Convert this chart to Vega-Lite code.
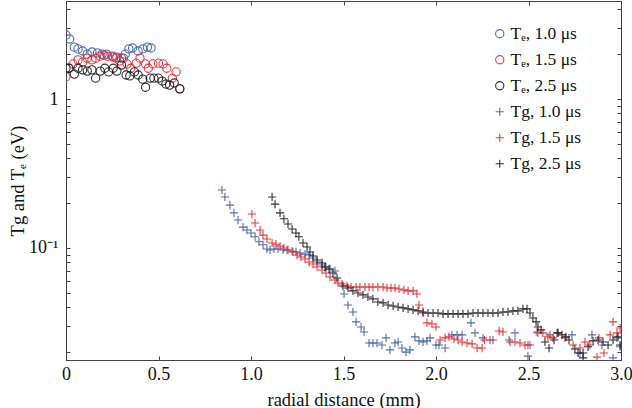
{
  "$schema": "https://vega.github.io/schema/vega-lite/v6.json",
  "width": 555,
  "height": 359,
  "autosize": {"type": "none"},
  "padding": {"left": 66, "top": 1, "right": 11, "bottom": 48},
  "background": "white",
  "config": {
    "view": {"stroke": "#222", "strokeWidth": 1},
    "font": "Liberation Serif",
    "axis": {
      "labelFont": "Liberation Serif", "titleFont": "Liberation Serif",
      "labelFontSize": 18, "titleFontSize": 18.5, "titleFontWeight": "normal",
      "labelColor": "#111", "titleColor": "#111",
      "domainColor": "#444", "tickColor": "#444", "grid": false
    },
    "legend": {"labelFont": "Liberation Serif", "labelFontSize": 17.5, "labelColor": "#111"}
  },
  "data": {"values": [
    {"x":0.00,"y":2.69,"s":"Te1"},{"x":0.02,"y":2.53,"s":"Te1"},{"x":0.045,"y":2.23,"s":"Te1"},{"x":0.065,"y":2.17,"s":"Te1"},{"x":0.09,"y":2.10,"s":"Te1"},{"x":0.115,"y":2.00,"s":"Te1"},{"x":0.14,"y":2.07,"s":"Te1"},{"x":0.17,"y":2.04,"s":"Te1"},{"x":0.195,"y":2.00,"s":"Te1"},{"x":0.22,"y":2.00,"s":"Te1"},{"x":0.25,"y":1.94,"s":"Te1"},{"x":0.275,"y":1.91,"s":"Te1"},{"x":0.30,"y":1.88,"s":"Te1"},{"x":0.32,"y":2.00,"s":"Te1"},{"x":0.34,"y":2.17,"s":"Te1"},{"x":0.36,"y":2.20,"s":"Te1"},{"x":0.39,"y":2.10,"s":"Te1"},{"x":0.415,"y":2.17,"s":"Te1"},{"x":0.44,"y":2.23,"s":"Te1"},{"x":0.46,"y":2.20,"s":"Te1"},
    {"x":0.00,"y":1.41,"s":"Te15"},{"x":0.016,"y":1.61,"s":"Te15"},{"x":0.038,"y":1.72,"s":"Te15"},{"x":0.065,"y":1.83,"s":"Te15"},{"x":0.09,"y":1.77,"s":"Te15"},{"x":0.115,"y":1.88,"s":"Te15"},{"x":0.14,"y":1.83,"s":"Te15"},{"x":0.16,"y":1.88,"s":"Te15"},{"x":0.185,"y":1.94,"s":"Te15"},{"x":0.205,"y":1.97,"s":"Te15"},{"x":0.225,"y":1.94,"s":"Te15"},{"x":0.255,"y":1.91,"s":"Te15"},{"x":0.27,"y":1.88,"s":"Te15"},{"x":0.29,"y":1.80,"s":"Te15"},{"x":0.31,"y":1.88,"s":"Te15"},{"x":0.33,"y":1.72,"s":"Te15"},{"x":0.35,"y":1.61,"s":"Te15"},{"x":0.38,"y":1.74,"s":"Te15"},{"x":0.40,"y":1.88,"s":"Te15"},{"x":0.43,"y":1.72,"s":"Te15"},{"x":0.445,"y":1.61,"s":"Te15"},{"x":0.47,"y":1.72,"s":"Te15"},{"x":0.50,"y":1.74,"s":"Te15"},{"x":0.525,"y":1.72,"s":"Te15"},{"x":0.545,"y":1.61,"s":"Te15"},{"x":0.575,"y":1.38,"s":"Te15"},{"x":0.595,"y":1.52,"s":"Te15"},{"x":0.615,"y":1.17,"s":"Te15"},
    {"x":0.00,"y":1.61,"s":"Te25"},{"x":0.016,"y":1.61,"s":"Te25"},{"x":0.045,"y":1.47,"s":"Te25"},{"x":0.065,"y":1.61,"s":"Te25"},{"x":0.09,"y":1.57,"s":"Te25"},{"x":0.115,"y":1.54,"s":"Te25"},{"x":0.14,"y":1.57,"s":"Te25"},{"x":0.16,"y":1.38,"s":"Te25"},{"x":0.185,"y":1.54,"s":"Te25"},{"x":0.21,"y":1.61,"s":"Te25"},{"x":0.23,"y":1.52,"s":"Te25"},{"x":0.255,"y":1.61,"s":"Te25"},{"x":0.275,"y":1.54,"s":"Te25"},{"x":0.30,"y":1.69,"s":"Te25"},{"x":0.325,"y":1.45,"s":"Te25"},{"x":0.345,"y":1.43,"s":"Te25"},{"x":0.37,"y":1.52,"s":"Te25"},{"x":0.39,"y":1.45,"s":"Te25"},{"x":0.415,"y":1.36,"s":"Te25"},{"x":0.43,"y":1.20,"s":"Te25"},{"x":0.455,"y":1.38,"s":"Te25"},{"x":0.475,"y":1.38,"s":"Te25"},{"x":0.50,"y":1.38,"s":"Te25"},{"x":0.52,"y":1.32,"s":"Te25"},{"x":0.54,"y":1.26,"s":"Te25"},{"x":0.56,"y":1.24,"s":"Te25"},{"x":0.585,"y":1.28,"s":"Te25"},{"x":0.615,"y":1.17,"s":"Te25"},
    {"x":0.843,"y":0.245,"s":"Tg1"},{"x":0.859,"y":0.220,"s":"Tg1"},{"x":0.886,"y":0.194,"s":"Tg1"},{"x":0.908,"y":0.172,"s":"Tg1"},{"x":0.930,"y":0.154,"s":"Tg1"},{"x":0.957,"y":0.138,"s":"Tg1"},{"x":0.978,"y":0.132,"s":"Tg1"},{"x":1.0,"y":0.126,"s":"Tg1"},{"x":1.022,"y":0.119,"s":"Tg1"},{"x":1.043,"y":0.110,"s":"Tg1"},{"x":1.065,"y":0.105,"s":"Tg1"},{"x":1.086,"y":0.0985,"s":"Tg1"},{"x":1.103,"y":0.097,"s":"Tg1"},{"x":1.124,"y":0.0985,"s":"Tg1"},{"x":1.146,"y":0.0985,"s":"Tg1"},{"x":1.173,"y":0.097,"s":"Tg1"},{"x":1.195,"y":0.097,"s":"Tg1"},{"x":1.222,"y":0.095,"s":"Tg1"},{"x":1.243,"y":0.094,"s":"Tg1"},{"x":1.265,"y":0.0925,"s":"Tg1"},{"x":1.292,"y":0.091,"s":"Tg1"},{"x":1.314,"y":0.0897,"s":"Tg1"},{"x":1.335,"y":0.0857,"s":"Tg1"},{"x":1.357,"y":0.0805,"s":"Tg1"},{"x":1.384,"y":0.0769,"s":"Tg1"},{"x":1.405,"y":0.0745,"s":"Tg1"},{"x":1.427,"y":0.0723,"s":"Tg1"},{"x":1.454,"y":0.0701,"s":"Tg1"},{"x":1.503,"y":0.0491,"s":"Tg1"},{"x":1.524,"y":0.0414,"s":"Tg1"},{"x":1.551,"y":0.0372,"s":"Tg1"},{"x":1.568,"y":0.0319,"s":"Tg1"},{"x":1.595,"y":0.0295,"s":"Tg1"},{"x":1.611,"y":0.0273,"s":"Tg1"},{"x":1.638,"y":0.0230,"s":"Tg1"},{"x":1.659,"y":0.0230,"s":"Tg1"},{"x":1.681,"y":0.0230,"s":"Tg1"},{"x":1.708,"y":0.0223,"s":"Tg1"},{"x":1.730,"y":0.0249,"s":"Tg1"},{"x":1.751,"y":0.0207,"s":"Tg1"},{"x":1.778,"y":0.0230,"s":"Tg1"},{"x":1.795,"y":0.0234,"s":"Tg1"},{"x":1.816,"y":0.0213,"s":"Tg1"},{"x":1.838,"y":0.0200,"s":"Tg1"},{"x":1.859,"y":0.0207,"s":"Tg1"},{"x":1.886,"y":0.0253,"s":"Tg1"},{"x":1.908,"y":0.0238,"s":"Tg1"},{"x":1.930,"y":0.0234,"s":"Tg1"},{"x":1.951,"y":0.0238,"s":"Tg1"},{"x":1.968,"y":0.0249,"s":"Tg1"},{"x":2.0,"y":0.0223,"s":"Tg1"},{"x":2.016,"y":0.0223,"s":"Tg1"},{"x":2.049,"y":0.0213,"s":"Tg1"},{"x":2.086,"y":0.0261,"s":"Tg1"},{"x":2.114,"y":0.0261,"s":"Tg1"},{"x":2.141,"y":0.0261,"s":"Tg1"},{"x":2.189,"y":0.0314,"s":"Tg1"},{"x":2.211,"y":0.0269,"s":"Tg1"},{"x":2.254,"y":0.0249,"s":"Tg1"},{"x":2.308,"y":0.0241,"s":"Tg1"},{"x":2.395,"y":0.0241,"s":"Tg1"},{"x":2.427,"y":0.0269,"s":"Tg1"},{"x":2.497,"y":0.0188,"s":"Tg1"},{"x":2.497,"y":0.0223,"s":"Tg1"},{"x":2.551,"y":0.0269,"s":"Tg1"},{"x":2.616,"y":0.0261,"s":"Tg1"},{"x":2.654,"y":0.0269,"s":"Tg1"},{"x":2.735,"y":0.0261,"s":"Tg1"},{"x":2.778,"y":0.0197,"s":"Tg1"},{"x":2.843,"y":0.0261,"s":"Tg1"},{"x":2.897,"y":0.0223,"s":"Tg1"},{"x":2.957,"y":0.0183,"s":"Tg1"},{"x":2.978,"y":0.0249,"s":"Tg1"},{"x":2.995,"y":0.0217,"s":"Tg1"},
    {"x":1.005,"y":0.169,"s":"Tg15"},{"x":1.022,"y":0.147,"s":"Tg15"},{"x":1.049,"y":0.132,"s":"Tg15"},{"x":1.065,"y":0.122,"s":"Tg15"},{"x":1.086,"y":0.115,"s":"Tg15"},{"x":1.114,"y":0.108,"s":"Tg15"},{"x":1.135,"y":0.106,"s":"Tg15"},{"x":1.157,"y":0.103,"s":"Tg15"},{"x":1.178,"y":0.100,"s":"Tg15"},{"x":1.2,"y":0.097,"s":"Tg15"},{"x":1.227,"y":0.094,"s":"Tg15"},{"x":1.249,"y":0.0897,"s":"Tg15"},{"x":1.270,"y":0.087,"s":"Tg15"},{"x":1.292,"y":0.0844,"s":"Tg15"},{"x":1.314,"y":0.0805,"s":"Tg15"},{"x":1.335,"y":0.078,"s":"Tg15"},{"x":1.357,"y":0.0745,"s":"Tg15"},{"x":1.384,"y":0.0711,"s":"Tg15"},{"x":1.405,"y":0.0679,"s":"Tg15"},{"x":1.427,"y":0.0638,"s":"Tg15"},{"x":1.454,"y":0.0610,"s":"Tg15"},{"x":1.470,"y":0.0582,"s":"Tg15"},{"x":1.492,"y":0.0573,"s":"Tg15"},{"x":1.519,"y":0.0556,"s":"Tg15"},{"x":1.541,"y":0.0547,"s":"Tg15"},{"x":1.568,"y":0.0547,"s":"Tg15"},{"x":1.589,"y":0.0547,"s":"Tg15"},{"x":1.616,"y":0.0547,"s":"Tg15"},{"x":1.638,"y":0.0547,"s":"Tg15"},{"x":1.659,"y":0.0547,"s":"Tg15"},{"x":1.686,"y":0.0547,"s":"Tg15"},{"x":1.714,"y":0.0547,"s":"Tg15"},{"x":1.735,"y":0.0539,"s":"Tg15"},{"x":1.757,"y":0.0539,"s":"Tg15"},{"x":1.778,"y":0.0539,"s":"Tg15"},{"x":1.8,"y":0.0531,"s":"Tg15"},{"x":1.827,"y":0.0523,"s":"Tg15"},{"x":1.849,"y":0.0515,"s":"Tg15"},{"x":1.876,"y":0.0515,"s":"Tg15"},{"x":1.897,"y":0.0491,"s":"Tg15"},{"x":1.908,"y":0.0414,"s":"Tg15"},{"x":1.930,"y":0.0366,"s":"Tg15"},{"x":1.951,"y":0.0314,"s":"Tg15"},{"x":1.978,"y":0.0309,"s":"Tg15"},{"x":2.0,"y":0.0295,"s":"Tg15"},{"x":2.022,"y":0.0241,"s":"Tg15"},{"x":2.049,"y":0.0249,"s":"Tg15"},{"x":2.070,"y":0.0253,"s":"Tg15"},{"x":2.097,"y":0.0245,"s":"Tg15"},{"x":2.119,"y":0.0241,"s":"Tg15"},{"x":2.141,"y":0.0234,"s":"Tg15"},{"x":2.168,"y":0.0230,"s":"Tg15"},{"x":2.195,"y":0.0227,"s":"Tg15"},{"x":2.222,"y":0.0213,"s":"Tg15"},{"x":2.249,"y":0.0213,"s":"Tg15"},{"x":2.262,"y":0.0241,"s":"Tg15"},{"x":2.292,"y":0.0241,"s":"Tg15"},{"x":2.341,"y":0.0277,"s":"Tg15"},{"x":2.362,"y":0.0273,"s":"Tg15"},{"x":2.4,"y":0.0234,"s":"Tg15"},{"x":2.427,"y":0.0234,"s":"Tg15"},{"x":2.454,"y":0.0230,"s":"Tg15"},{"x":2.481,"y":0.0223,"s":"Tg15"},{"x":2.508,"y":0.0223,"s":"Tg15"},{"x":2.546,"y":0.0273,"s":"Tg15"},{"x":2.578,"y":0.0269,"s":"Tg15"},{"x":2.605,"y":0.0253,"s":"Tg15"},{"x":2.632,"y":0.0249,"s":"Tg15"},{"x":2.659,"y":0.0269,"s":"Tg15"},{"x":2.697,"y":0.0249,"s":"Tg15"},{"x":2.741,"y":0.0223,"s":"Tg15"},{"x":2.778,"y":0.0213,"s":"Tg15"},{"x":2.805,"y":0.0234,"s":"Tg15"},{"x":2.832,"y":0.0223,"s":"Tg15"},{"x":2.870,"y":0.0185,"s":"Tg15"},{"x":2.881,"y":0.0249,"s":"Tg15"},{"x":2.908,"y":0.0197,"s":"Tg15"},{"x":2.941,"y":0.0261,"s":"Tg15"},{"x":2.957,"y":0.0319,"s":"Tg15"},{"x":2.978,"y":0.0269,"s":"Tg15"},{"x":2.995,"y":0.0290,"s":"Tg15"},
    {"x":1.114,"y":0.220,"s":"Tg25"},{"x":1.130,"y":0.197,"s":"Tg25"},{"x":1.157,"y":0.172,"s":"Tg25"},{"x":1.178,"y":0.157,"s":"Tg25"},{"x":1.2,"y":0.145,"s":"Tg25"},{"x":1.222,"y":0.134,"s":"Tg25"},{"x":1.243,"y":0.126,"s":"Tg25"},{"x":1.259,"y":0.119,"s":"Tg25"},{"x":1.281,"y":0.108,"s":"Tg25"},{"x":1.303,"y":0.1016,"s":"Tg25"},{"x":1.319,"y":0.094,"s":"Tg25"},{"x":1.335,"y":0.0884,"s":"Tg25"},{"x":1.357,"y":0.083,"s":"Tg25"},{"x":1.384,"y":0.0793,"s":"Tg25"},{"x":1.4,"y":0.0745,"s":"Tg25"},{"x":1.422,"y":0.0723,"s":"Tg25"},{"x":1.443,"y":0.0679,"s":"Tg25"},{"x":1.465,"y":0.0629,"s":"Tg25"},{"x":1.497,"y":0.0556,"s":"Tg25"},{"x":1.524,"y":0.0539,"s":"Tg25"},{"x":1.551,"y":0.0515,"s":"Tg25"},{"x":1.578,"y":0.0499,"s":"Tg25"},{"x":1.605,"y":0.0484,"s":"Tg25"},{"x":1.632,"y":0.0469,"s":"Tg25"},{"x":1.659,"y":0.0455,"s":"Tg25"},{"x":1.686,"y":0.0434,"s":"Tg25"},{"x":1.714,"y":0.0428,"s":"Tg25"},{"x":1.741,"y":0.0414,"s":"Tg25"},{"x":1.768,"y":0.0408,"s":"Tg25"},{"x":1.795,"y":0.0402,"s":"Tg25"},{"x":1.822,"y":0.0396,"s":"Tg25"},{"x":1.849,"y":0.0390,"s":"Tg25"},{"x":1.876,"y":0.0384,"s":"Tg25"},{"x":1.903,"y":0.0378,"s":"Tg25"},{"x":1.930,"y":0.0372,"s":"Tg25"},{"x":1.957,"y":0.0366,"s":"Tg25"},{"x":1.984,"y":0.0366,"s":"Tg25"},{"x":2.011,"y":0.0366,"s":"Tg25"},{"x":2.038,"y":0.0361,"s":"Tg25"},{"x":2.065,"y":0.0361,"s":"Tg25"},{"x":2.092,"y":0.0361,"s":"Tg25"},{"x":2.119,"y":0.0361,"s":"Tg25"},{"x":2.146,"y":0.0361,"s":"Tg25"},{"x":2.173,"y":0.0361,"s":"Tg25"},{"x":2.2,"y":0.0366,"s":"Tg25"},{"x":2.227,"y":0.0366,"s":"Tg25"},{"x":2.254,"y":0.0366,"s":"Tg25"},{"x":2.281,"y":0.0366,"s":"Tg25"},{"x":2.308,"y":0.0366,"s":"Tg25"},{"x":2.335,"y":0.0366,"s":"Tg25"},{"x":2.362,"y":0.0372,"s":"Tg25"},{"x":2.389,"y":0.0372,"s":"Tg25"},{"x":2.416,"y":0.0378,"s":"Tg25"},{"x":2.443,"y":0.0378,"s":"Tg25"},{"x":2.470,"y":0.0390,"s":"Tg25"},{"x":2.492,"y":0.0390,"s":"Tg25"},{"x":2.508,"y":0.0366,"s":"Tg25"},{"x":2.524,"y":0.0339,"s":"Tg25"},{"x":2.541,"y":0.0319,"s":"Tg25"},{"x":2.551,"y":0.0295,"s":"Tg25"},{"x":2.568,"y":0.0282,"s":"Tg25"},{"x":2.589,"y":0.0234,"s":"Tg25"},{"x":2.611,"y":0.0213,"s":"Tg25"},{"x":2.638,"y":0.0241,"s":"Tg25"},{"x":2.659,"y":0.0269,"s":"Tg25"},{"x":2.681,"y":0.0261,"s":"Tg25"},{"x":2.703,"y":0.0253,"s":"Tg25"},{"x":2.719,"y":0.0241,"s":"Tg25"},{"x":2.751,"y":0.0210,"s":"Tg25"},{"x":2.768,"y":0.0197,"s":"Tg25"},{"x":2.795,"y":0.0197,"s":"Tg25"},{"x":2.795,"y":0.0183,"s":"Tg25"},{"x":2.822,"y":0.0217,"s":"Tg25"},{"x":2.849,"y":0.0238,"s":"Tg25"},{"x":2.876,"y":0.0241,"s":"Tg25"},{"x":2.903,"y":0.0234,"s":"Tg25"},{"x":2.930,"y":0.0223,"s":"Tg25"},{"x":2.957,"y":0.0241,"s":"Tg25"},{"x":2.984,"y":0.0253,"s":"Tg25"},{"x":2.995,"y":0.0223,"s":"Tg25"}
  ]},
  "layer": [
    {
      "mark": {"type": "point", "filled": false, "strokeWidth": 1.1, "opacity": 0.9, "clip": true},
      "encoding": {
        "x": {"field": "x", "type": "quantitative",
          "scale": {"domain": [0, 3], "nice": false, "zero": false},
          "axis": {"title": "radial distance (mm)", "values": [0, 0.5, 1, 1.5, 2, 2.5, 3],
            "labelExpr": "datum.value == 0 ? '0' : format(datum.value, '.1f')",
            "tickSize": -4, "labelPadding": 9, "titlePadding": 7, "labelFlush": false}},
        "y": {"field": "y", "type": "quantitative",
          "scale": {"type": "log", "domain": [0.0177, 4.55], "nice": false},
          "axis": {"title": "Tg and Tₑ (eV)", "titleFontSize": 18.5,
            "values": [0.02,0.03,0.04,0.05,0.06,0.07,0.08,0.09,0.1,0.2,0.3,0.4,0.5,0.6,0.7,0.8,0.9,1,2,3,4],
            "labelExpr": "datum.value == 1 ? '1' : (abs(datum.value - 0.1) < 0.001 ? '10⁻¹' : '')",
            "tickSize": -4, "labelPadding": 12, "titlePadding": 1, "labelFlush": false}},
        "color": {"field": "s", "type": "nominal",
          "scale": {"domain": ["Te1","Te15","Te25","Tg1","Tg15","Tg25"],
            "range": ["#3d5fae","#e8262d","#1a1a1a","#3d5fae","#e8262d","#1a1a1a"]},
          "legend": {"title": null, "orient": "none", "legendX": 425, "legendY": 24,
            "labelExpr": "datum.value == 'Te1' ? 'Tₑ, 1.0 μs' : datum.value == 'Te15' ? 'Tₑ, 1.5 μs' : datum.value == 'Te25' ? 'Tₑ, 2.5 μs' : datum.value == 'Tg1' ? 'Tg, 1.0 μs' : datum.value == 'Tg15' ? 'Tg, 1.5 μs' : 'Tg, 2.5 μs'",
            "symbolSize": 45, "symbolStrokeWidth": 1.1, "rowPadding": 7, "labelOffset": 2}},
        "shape": {"field": "s", "type": "nominal",
          "scale": {"domain": ["Te1","Te15","Te25","Tg1","Tg15","Tg25"],
            "range": ["circle","circle","circle","M-1,0H1M0,-1V1","M-1,0H1M0,-1V1","M-1,0H1M0,-1V1"]},
          "legend": null},
        "size": {"field": "s", "type": "nominal",
          "scale": {"domain": ["Te1","Te15","Te25","Tg1","Tg15","Tg25"],
            "range": [68, 68, 68, 52, 52, 52]},
          "legend": null}
      }
    },
    {
      "mark": {"type": "point", "opacity": 0},
      "encoding": {
        "x": {"field": "x", "type": "quantitative",
          "axis": {"orient": "top", "title": null, "labels": false, "values": [0, 0.5, 1, 1.5, 2, 2.5, 3], "tickSize": -4}},
        "y": {"field": "y", "type": "quantitative",
          "axis": {"orient": "right", "title": null, "labels": false,
            "values": [0.02,0.03,0.04,0.05,0.06,0.07,0.08,0.09,0.1,0.2,0.3,0.4,0.5,0.6,0.7,0.8,0.9,1,2,3,4], "tickSize": -4}}
      }
    }
  ],
  "resolve": {"axis": {"x": "independent", "y": "independent"}}
}
